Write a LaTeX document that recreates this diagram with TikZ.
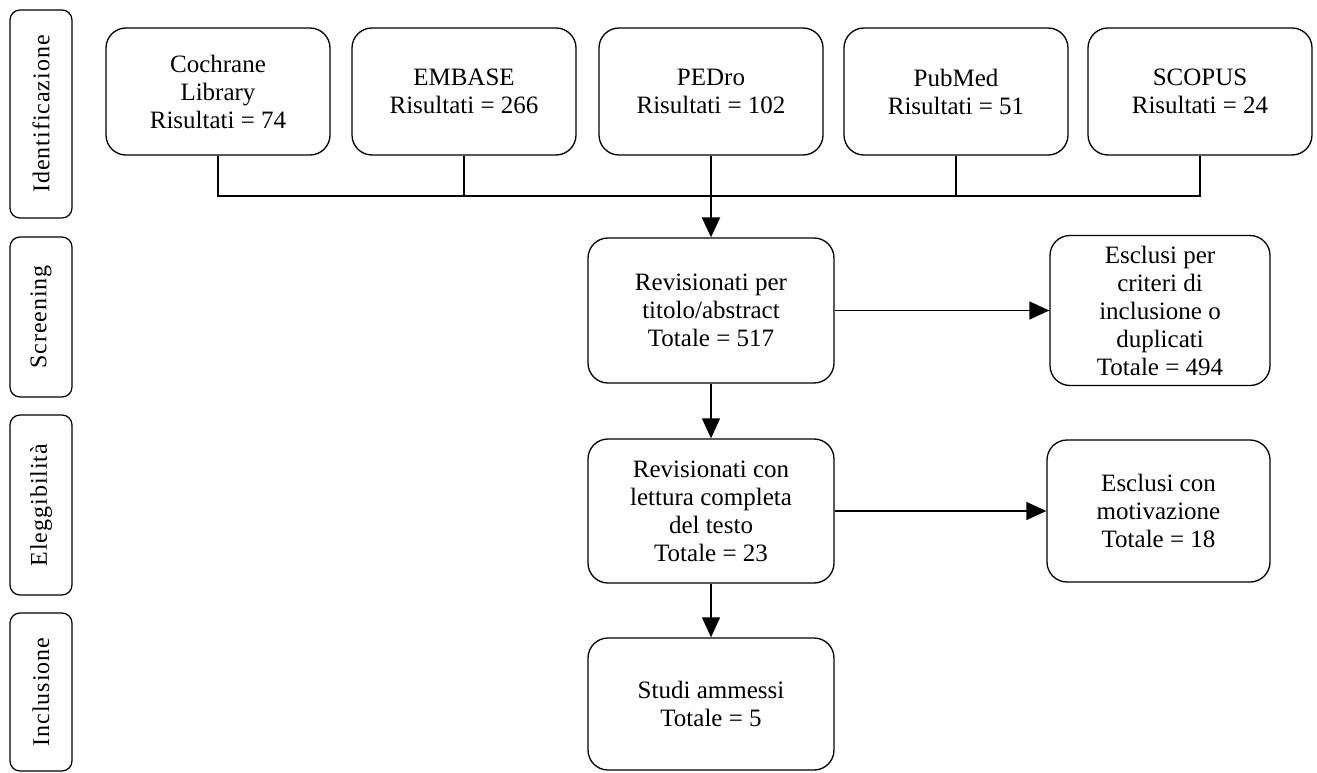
\documentclass[tikz,border=0pt]{standalone}
\usepackage{fontspec}
\setmainfont{Liberation Serif}
\newfontfamily\phasefont[LetterSpace=4]{Liberation Serif}
\usepackage{tikz}
\usetikzlibrary{arrows.meta}

\begin{document}
\begin{tikzpicture}[x=1pt, y=-1pt,
		phase/.style={draw, line width=1.2pt, rounded corners=10pt, rotate=90, minimum height=62pt, inner sep=0pt, font=\phasefont\fontsize{24}{26}\selectfont},
		box/.style={draw, line width=1.3pt, rounded corners=20pt, align=center, inner sep=0pt, font=\fontsize{25}{28}\selectfont},
		link/.style={line width=1.3pt},
		arrow/.style={line width=1.3pt, -{Triangle[length=20pt, width=18pt]}}]
			%%%%% START %%%%%
			
			\useasboundingbox (0, 0) rectangle (1317, 773);
			
			\node[phase, minimum width=208pt] (ident) at (41, 114) {Identificazione};
			\node[phase, minimum width=160pt] (screen) at (41, 317) {Screening};
			\node[phase, minimum width=180pt] (elig) at (41, 505) {Eleggibilità};
			\node[phase, minimum width=158pt] (incl) at (41, 692) {Inclusione};
			
			\node[box, minimum width=224pt, minimum height=127pt] (cochrane) at (218, 91.5) {Cochrane\\Library\\Risultati = 74};
			\node[box, minimum width=224pt, minimum height=127pt] (embase) at (464, 91.5) {EMBASE\\Risultati = 266};
			\node[box, minimum width=224pt, minimum height=127pt] (pedro) at (711, 91.5) {PEDro\\Risultati = 102};
			\node[box, minimum width=224pt, minimum height=127pt] (pubmed) at (956, 91.5) {PubMed\\Risultati = 51};
			\node[box, minimum width=224pt, minimum height=127pt] (scopus) at (1200, 91.5) {SCOPUS\\Risultati = 24};
			
			\node[box, minimum width=246pt, minimum height=145pt] (titolo) at (711, 310.5) {Revisionati per\\titolo/abstract\\Totale = 517};
			\node[box, minimum width=220pt, minimum height=150pt] (esclusi) at (1160, 310.5) {Esclusi per\\criteri di\\inclusione o\\duplicati\\Totale = 494};
			
			\node[box, minimum width=246pt, minimum height=144pt] (testo) at (711, 511) {Revisionati con\\lettura completa\\del testo\\Totale = 23};
			\node[box, minimum width=223pt, minimum height=142pt] (motivo) at (1158.5, 511) {Esclusi con\\motivazione\\Totale = 18};
			
			\node[box, minimum width=246pt, minimum height=132pt] (ammessi) at (711, 704) {Studi ammessi\\Totale = 5};
			
			\coordinate (bus) at (711, 196);
			\draw[link] (cochrane.south) |- (bus) -| (scopus.south);
			\foreach \db in {embase, pedro, pubmed}
				\draw[link] (\db.south) -- (\db.south |- bus);
			
			\draw[arrow, line width=2.2pt] (bus) -- (titolo.north);
			\draw[arrow] (titolo.east) -- (esclusi.west);
			\draw[arrow] (titolo.south) -- (testo.north);
			\draw[arrow] (testo.east) -- (motivo.west);
			\draw[arrow] (testo.south) -- (ammessi.north);
			
			%%%%% END %%%%%
		\end{tikzpicture}
\end{document}
